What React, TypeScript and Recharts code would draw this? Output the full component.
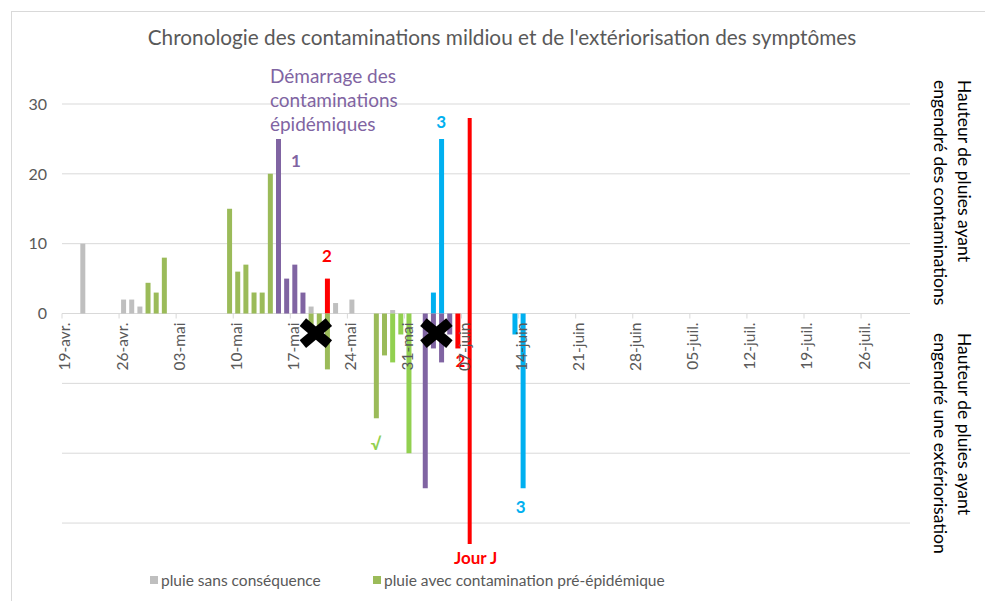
import React from "react";
import {
  BarChart,
  Bar,
  XAxis,
  YAxis,
  CartesianGrid,
  ReferenceLine,
  ReferenceDot,
  Legend,
} from "recharts";

// daily categories, 19-avr. -> 31-juil.
const MONTHS: [string, number, number][] = [
  ["avr.", 19, 30],
  ["mai", 1, 31],
  ["juin", 1, 30],
  ["juil.", 1, 31],
];
const dates: string[] = MONTHS.flatMap(([m, from, to]) =>
  Array.from({ length: to - from + 1 }, (_, i) => `${String(from + i).padStart(2, "0")}-${m}`)
);

// rain above zero = contamination, below zero = extériorisation
const sansConsequence: [string, number][] = [
  ["21-avr.", 10], ["26-avr.", 2], ["27-avr.", 2], ["28-avr.", 1],
  ["19-mai", 1], ["22-mai", 1.5], ["24-mai", 2], ["29-mai", 0.5],
];
const contamPreEpi: [string, number][] = [
  ["29-avr.", 4.4], ["30-avr.", 3], ["01-mai", 8], ["09-mai", 15], ["10-mai", 6],
  ["11-mai", 7], ["12-mai", 3], ["13-mai", 3], ["14-mai", 20],
];
const contamEpi1: [string, number][] = [["15-mai", 25], ["16-mai", 5], ["17-mai", 7], ["18-mai", 3]];
const contamEpi2: [string, number][] = [["21-mai", 5]];
const contamEpi3: [string, number][] = [["03-juin", 3], ["04-juin", 25]];
const sortiePreEpi: [string, number][] = [
  ["19-mai", -3], ["20-mai", -3], ["21-mai", -8], ["27-mai", -15], ["28-mai", -6],
];
const sortiePreEpiBis: [string, number][] = [["29-mai", -7], ["30-mai", -3], ["31-mai", -20]];
const sortieEpi1: [string, number][] = [["02-juin", -25], ["03-juin", -5], ["04-juin", -7], ["05-juin", -3]];
const sortieEpi2: [string, number][] = [["06-juin", -5]];
const sortieEpi3: [string, number][] = [["13-juin", -3], ["14-juin", -25]];

const yTicks = [-30, -20, -10, 0, 10, 20, 30];

const GREY = "#BFBFBF";
const OLIVE = "#9BBB59";
const LIME = "#92D050";
const PURPLE = "#8064A2";
const RED = "#FF0000";
const BLUE = "#00B0F0";
const FONT = "Lato, 'Open Sans', sans-serif";

const SERIES = [
  { key: "sansConsequence", data: sansConsequence, color: GREY },
  { key: "contamPreEpi", data: contamPreEpi, color: OLIVE },
  { key: "contamEpi1", data: contamEpi1, color: PURPLE },
  { key: "contamEpi2", data: contamEpi2, color: RED },
  { key: "contamEpi3", data: contamEpi3, color: BLUE },
  { key: "sortiePreEpi", data: sortiePreEpi, color: OLIVE },
  { key: "sortiePreEpiBis", data: sortiePreEpiBis, color: LIME },
  { key: "sortieEpi1", data: sortieEpi1, color: PURPLE },
  { key: "sortieEpi2", data: sortieEpi2, color: RED },
  { key: "sortieEpi3", data: sortieEpi3, color: BLUE },
];

const table = dates.map((date) => {
  const row: Record<string, string | number> = { date };
  SERIES.forEach((s) => {
    const hit = s.data.find((d) => d[0] === date);
    row[s.key] = hit ? hit[1] : 0;
  });
  return row;
});

// layout
const W = 985;
const H = 601;
const X_AXIS_H = 1;
const M = { top: 104, right: 75, bottom: 56, left: 0 };
const Y_AXIS_W = 62;
const Y_MIN = -33;
const Y_MAX = 30;
const PLOT_H = H - M.top - M.bottom - X_AXIS_H;
const ZERO_Y = M.top + (PLOT_H * Y_MAX) / (Y_MAX - Y_MIN);
const BAND = (W - M.right - Y_AXIS_W) / dates.length;

function DateTick({ x, payload }: any) {
  const left = x - BAND / 2;
  const tx = x - 1;
  const ty = ZERO_Y + 9;
  return (
    <g>
      <line x1={left} x2={left} y1={ZERO_Y} y2={ZERO_Y + 5} stroke="#D9D9D9" />
      <text
        x={tx}
        y={ty}
        dy="0.35em"
        transform={`rotate(-90 ${tx} ${ty})`}
        textAnchor="end"
        fontSize={15.5}
        fill="#595959"
        fontFamily={FONT}
      >
        {payload.value}
      </text>
    </g>
  );
}

const note = (lines: string[], color: string, opts: { bold?: boolean; size?: number; anchor?: string; dx?: number } = {}) =>
  (p: any) => (
    <text
      x={p.cx + (opts.dx || 0)}
      y={p.cy}
      fill={color}
      fontSize={opts.size || 17}
      fontWeight={opts.bold ? 700 : 400}
      textAnchor={opts.anchor || "middle"}
      fontFamily={FONT}
    >
      {lines.map((l, i) => (
        <tspan key={i} x={p.cx + (opts.dx || 0)} dy={i === 0 ? 0 : 24}>
          {l}
        </tspan>
      ))}
    </text>
  );

const cross = (dx: number) => (p: any) => {
  const cx = p.cx + dx;
  const cy = p.cy;
  return (
    <g stroke="#000" strokeWidth={10}>
      <line x1={cx - 13} y1={cy - 11} x2={cx + 13} y2={cy + 11} />
      <line x1={cx - 13} y1={cy + 11} x2={cx + 13} y2={cy - 11} />
    </g>
  );
};

function LegendBox() {
  const item = (color: string, label: string, left: number) => (
    <div style={{ position: "absolute", left, top: 0, display: "flex", alignItems: "center", whiteSpace: "nowrap" }}>
      <span style={{ width: 8, height: 8, background: color, marginRight: 3, display: "inline-block" }} />
      <span style={{ fontSize: 15.5, color: "#595959", fontFamily: FONT }}>{label}</span>
    </div>
  );
  return (
    <div style={{ position: "relative", width: W, height: 20 }}>
      {item(GREY, "pluie sans conséquence", 150)}
      {item(OLIVE, "pluie avec contamination pré-épidémique", 373)}
    </div>
  );
}

export default function App() {
  return (
    <div style={{ position: "absolute", left: 0, top: 0, width: W, height: H, background: "#fff", overflow: "hidden" }}>
      <div
        style={{
          position: "absolute",
          left: 11,
          top: 11,
          width: W,
          height: H,
          border: "1px solid #D9D9D9",
          boxSizing: "border-box",
        }}
      />
      <svg width={W} height={H} style={{ position: "absolute", left: 0, top: 0 }}>
        <text x={502} y={45} textAnchor="middle" fontSize={20.75} fill="#595959" fontFamily={FONT}>
          Chronologie des contaminations mildiou et de l'extériorisation des symptômes
        </text>
        {[
          { y: 80, lines: ["Hauteur de pluies ayant", "engendré des contaminations"] },
          { y: 333, lines: ["Hauteur de pluies ayant", "engendré une extériorisation"] },
        ].map((b, bi) =>
          b.lines.map((l, i) => {
            const x = 958 - i * 24;
            return (
              <text
                key={`${bi}-${i}`}
                x={x}
                y={b.y}
                transform={`rotate(90 ${x} ${b.y})`}
                fontSize={17.5}
                fill="#000"
                fontFamily={FONT}
              >
                {l}
              </text>
            );
          })
        )}
      </svg>
      <div style={{ position: "absolute", left: 0, top: 0 }}>
        <BarChart width={W} height={H} data={table} margin={M} stackOffset="sign" barSize={5}>
          <CartesianGrid
            vertical={false}
            stroke="#D9D9D9"
            horizontalCoordinatesGenerator={({ offset }: any) =>
              yTicks.map((t) => offset.top + (offset.height * (Y_MAX - t)) / (Y_MAX - Y_MIN))
            }
          />
          <XAxis
            dataKey="date"
            interval={6}
            height={X_AXIS_H}
            axisLine={false}
            tickLine={false}
            tick={(p: any) => <DateTick {...p} />}
          />
          <YAxis
            type="number"
            domain={[Y_MIN, Y_MAX]}
            ticks={yTicks}
            allowDataOverflow
            width={Y_AXIS_W}
            axisLine={false}
            tickLine={false}
            tickSize={0}
            tickMargin={15}
            tickFormatter={(v: number) => (v >= 0 ? String(v) : "")}
            tick={{ fill: "#595959", fontSize: 16, fontFamily: FONT }}
          />
          {SERIES.map((s) => (
            <Bar key={s.key} dataKey={s.key} stackId="s" fill={s.color} isAnimationActive={false} />
          ))}
          <ReferenceLine
            segment={[{ x: "07-juin", y: 28 }, { x: "07-juin", y: Y_MIN }]}
            position="end"
            stroke={RED}
            strokeWidth={4}
            ifOverflow="visible"
          />
          <ReferenceDot x="14-mai" y={33} r={0} ifOverflow="visible"
            shape={note(["Démarrage des", "contaminations", "épidémiques"], PURPLE, { size: 19, anchor: "start" })} />
          <ReferenceDot x="17-mai" y={21} r={0} ifOverflow="visible" shape={note(["1"], PURPLE, { bold: true, dx: 1.5 })} />
          <ReferenceDot x="21-mai" y={7.4} r={0} ifOverflow="visible" shape={note(["2"], RED, { bold: true })} />
          <ReferenceDot x="04-juin" y={26.6} r={0} ifOverflow="visible" shape={note(["3"], BLUE, { bold: true })} />
          <ReferenceDot x="06-juin" y={-7.7} r={0} ifOverflow="visible" shape={note(["2"], RED, { bold: true, dx: 3 })} />
          <ReferenceDot x="14-juin" y={-28.6} r={0} ifOverflow="visible" shape={note(["3"], BLUE, { bold: true, dx: -2 })} />
          <ReferenceDot x="27-mai" y={-19.6} r={0} ifOverflow="visible" shape={note(["√"], LIME, { bold: true })} />
          <ReferenceDot x="07-juin" y={-35.8} r={0} ifOverflow="visible" shape={note(["Jour J"], RED, { bold: true, dx: 10 })} />
          <ReferenceDot x="20-mai" y={-2.8} r={0} ifOverflow="visible" shape={cross(-3)} />
          <ReferenceDot x="03-juin" y={-2.8} r={0} ifOverflow="visible" shape={cross(3.4)} />
          <Legend
            verticalAlign="middle"
            align="center"
            wrapperStyle={{ top: 571, left: 0, width: W }}
            content={() => <LegendBox />}
          />
        </BarChart>
      </div>
    </div>
  );
}
